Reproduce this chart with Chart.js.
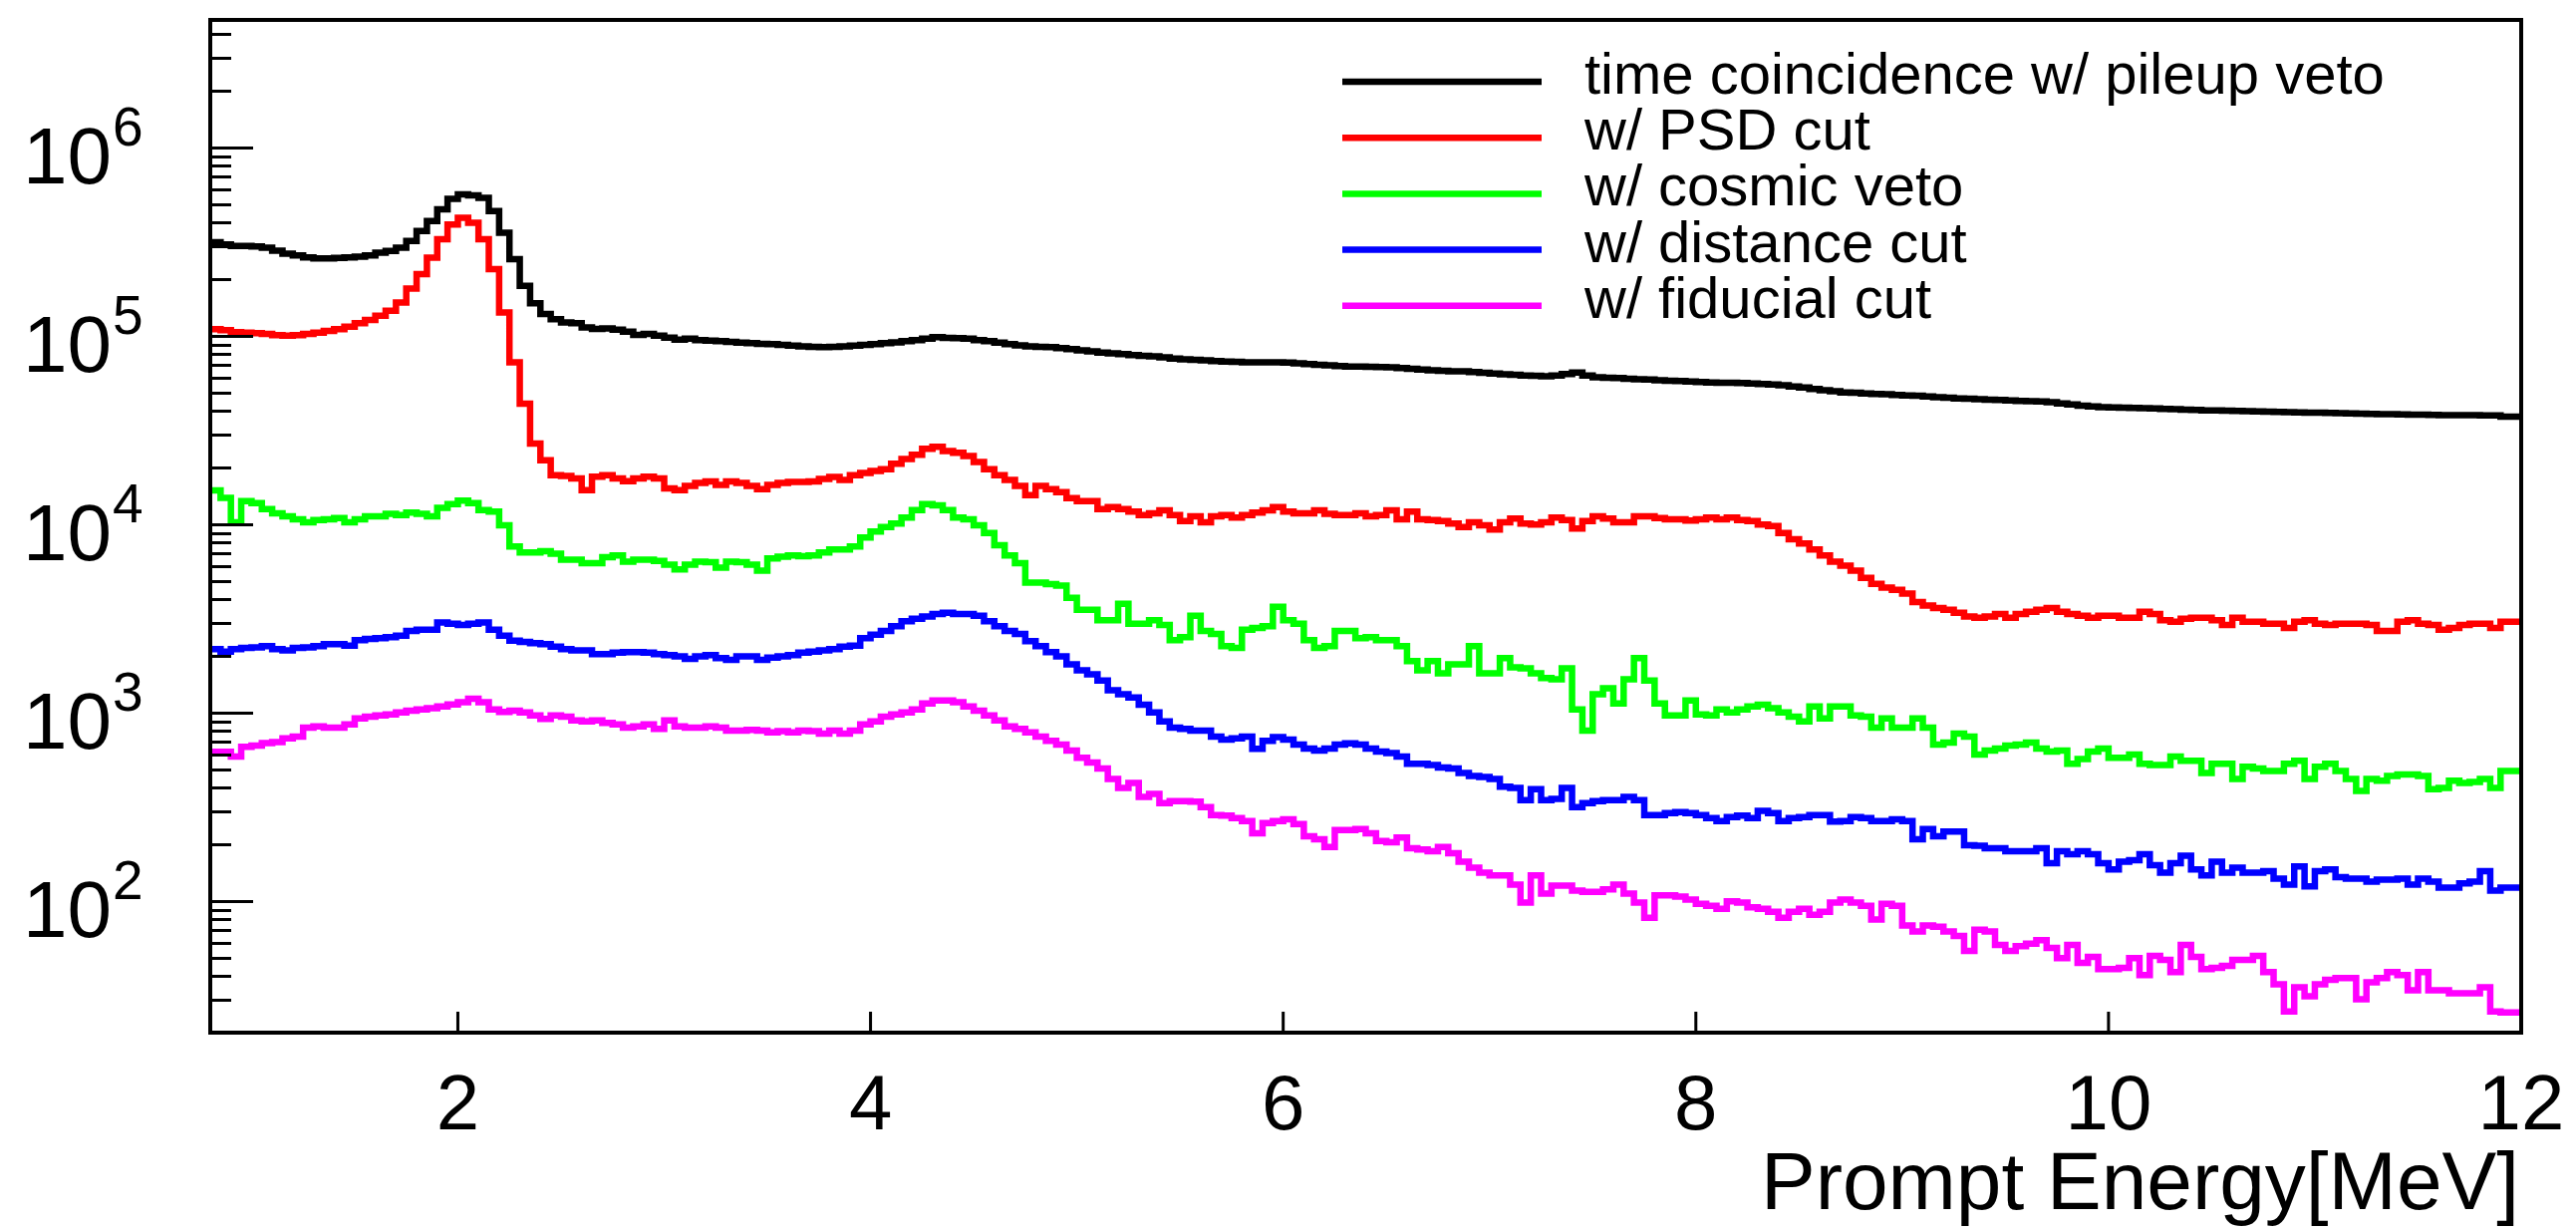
<!DOCTYPE html>
<html>
<head>
<meta charset="utf-8">
<title>Prompt Energy spectrum</title>
<script src="https://cdn.jsdelivr.net/npm/chart.js@4.4.1/dist/chart.umd.min.js"></script>
<style>
  html, body { margin: 0; padding: 0; background: #fff; }
  canvas { display: block; }
</style>
</head>
<body>
<canvas id="spectrum" width="2585" height="1234"></canvas>
<script>
// binning of the histograms (MeV)
const xMin = 0.8;
const xMax = 12;
const binWidth = 0.05;
const xTickValues = [2, 4, 6, 8, 10, 12];
const yMin = 20;
const yMax = 4.76e6;

const seriesLabels = [
  'time coincidence w/ pileup veto',
  'w/ PSD cut',
  'w/ cosmic veto',
  'w/ distance cut',
  'w/ fiducial cut'
];
const seriesColors = ['#000000', '#ff0000', '#00ff00', '#0000ff', '#ff00ff'];

// log10(entries per bin), 224 bins from 0.8 to 12 MeV
const pileupVeto = [
  5.507,5.498,5.485,5.478,5.478,5.475,5.469,5.453,5.437,5.427,
  5.417,5.411,5.411,5.414,5.417,5.421,5.428,5.442,5.451,5.469,
  5.504,5.557,5.610,5.672,5.728,5.751,5.746,5.733,5.663,5.548,
  5.407,5.266,5.174,5.116,5.089,5.072,5.068,5.045,5.037,5.040,
  5.033,5.022,5.005,5.010,5.001,4.991,4.980,4.985,4.978,4.975,
  4.972,4.968,4.965,4.962,4.958,4.956,4.952,4.948,4.945,4.942,
  4.940,4.942,4.945,4.948,4.952,4.956,4.962,4.966,4.972,4.978,
  4.985,4.994,4.990,4.988,4.985,4.978,4.972,4.965,4.956,4.950,
  4.945,4.942,4.940,4.935,4.930,4.924,4.918,4.912,4.908,4.904,
  4.898,4.894,4.892,4.886,4.880,4.876,4.873,4.870,4.866,4.864,
  4.862,4.860,4.860,4.860,4.860,4.858,4.855,4.850,4.846,4.844,
  4.840,4.838,4.838,4.836,4.835,4.834,4.830,4.826,4.822,4.818,
  4.815,4.812,4.812,4.808,4.804,4.800,4.796,4.794,4.790,4.788,
  4.786,4.790,4.798,4.805,4.790,4.780,4.778,4.776,4.773,4.770,
  4.768,4.764,4.762,4.760,4.758,4.755,4.753,4.752,4.751,4.750,
  4.748,4.745,4.742,4.738,4.732,4.726,4.718,4.712,4.706,4.700,
  4.698,4.695,4.692,4.690,4.686,4.684,4.682,4.678,4.675,4.672,
  4.668,4.667,4.664,4.662,4.660,4.657,4.655,4.653,4.652,4.648,
  4.642,4.636,4.630,4.626,4.622,4.620,4.619,4.618,4.617,4.615,
  4.613,4.611,4.609,4.607,4.605,4.604,4.603,4.602,4.600,4.599,
  4.598,4.597,4.595,4.594,4.593,4.592,4.591,4.590,4.589,4.587,
  4.586,4.585,4.584,4.583,4.582,4.582,4.581,4.580,4.580,4.579,
  4.579,4.578,4.578,4.571
];
const psdCut = [
  5.042,5.036,5.030,5.020,5.017,5.014,5.010,5.004,5.001,5.004,
  5.010,5.017,5.026,5.036,5.049,5.068,5.085,
  5.107,5.134,5.178,5.252,5.328,5.416,5.513,5.592,5.627,5.601,5.513,5.354,5.125,
  4.860,4.640,4.428,4.340,4.261,4.257,4.243,4.181,4.252,4.261,
  4.243,4.229,4.243,4.252,4.243,4.190,4.181,
  4.203,4.219,4.228,4.209,4.228,4.219,4.203,4.187,4.209,4.219,4.225,4.225,4.228,
  4.241,4.251,4.235,4.260,4.273,4.283,4.292,4.321,4.347,4.369,
  4.401,4.411,4.389,4.379,4.363,
  4.331,4.292,4.260,4.235,4.203,
  4.155,4.203,4.187,4.171,4.139,4.123,4.123,4.081,4.091,4.081,
  4.068,4.049,4.058,4.074,4.049,4.017,4.042,4.010,4.042,4.049,
  4.036,4.049,4.062,4.074,4.091,4.068,4.058,4.058,4.074,4.055,
  4.049,
  4.049,4.058,4.042,4.049,4.074,4.026,4.068,4.026,4.023,
  4.017,4.004,3.985,4.010,3.994,3.972,4.010,4.030,4.004,3.998,
  4.010,4.036,4.023,3.978,4.017,4.042,4.030,4.010,4.010,4.042,
  4.042,4.033,4.026,4.026,4.020,4.026,4.036,
  4.026,4.036,4.023,
  4.017,3.998,3.991,3.953,3.921,3.898,3.866,3.834,3.802,3.780,
  3.754,3.716,3.684,3.664,3.652,3.632,3.587,3.568,3.555,3.546,
  3.530,3.510,3.504,3.510,3.523,3.504,3.523,3.536,3.546,3.555,
  3.536,3.523,3.514,3.504,
  3.514,3.514,3.504,3.504,3.536,3.523,
  3.491,3.482,3.498,3.504,3.504,3.491,3.466,3.504,3.482,3.482,
  3.472,3.472,3.450,3.482,3.491,3.472,3.466,3.472,3.472,3.472,
  3.466,3.434,3.434,3.482,3.491,3.472,3.466,3.440,3.450,3.466,
  3.472,3.472,3.450,3.482
];
const cosmicVeto = [
  4.168,4.180,4.140,4.010,4.123,4.113,4.081,4.058,4.042,4.026,
  4.010,4.023,4.026,4.033,4.010,4.026,4.042,4.042,4.055,4.049,
  4.062,4.055,4.042,4.087,4.107,4.126,4.113,4.075,4.068,3.994,
  3.882,3.850,3.850,3.857,3.844,3.812,3.812,3.793,
  3.793,3.825,3.834,3.802,3.812,3.812,3.805,3.786,3.761,3.786,
  3.802,3.799,3.770,3.802,3.799,3.786,3.754,3.818,3.828,3.834,
  3.831,3.834,3.850,3.866,3.866,3.882,3.930,3.962,3.985,4.004,
  4.036,4.075,4.107,4.100,4.075,4.036,
  4.026,3.994,3.953,3.889,3.834,3.793,
  3.690,3.690,3.683,3.674,3.610,3.546,3.546,3.491,3.491,3.578,
  3.472,3.472,3.491,3.466,3.385,3.401,3.514,3.434,3.418,3.353,
  3.344,3.440,3.450,3.459,3.562,3.491,3.472,3.385,3.344,3.353,
  3.434,
  3.434,3.395,3.401,3.385,3.385,3.353,3.273,3.225,3.273,
  3.209,3.257,3.257,3.353,3.209,3.209,3.289,3.241,3.235,3.209,
  3.183,3.177,3.235,3.017,2.905,3.097,3.129,3.049,3.177,3.289,
  3.171,3.049,2.985,2.985,3.065,2.991,2.985,3.017,
  3.001,3.017,3.033,3.042,3.023,3.001,2.978,2.953,3.033,
  2.969,3.033,3.033,2.985,2.978,2.921,2.969,2.921,2.921,2.969,
  2.921,2.831,2.841,2.889,2.873,2.777,2.799,2.809,2.825,2.831,
  2.841,2.809,2.793,2.799,2.728,2.754,2.793,
  2.809,2.760,2.760,2.777,2.728,2.722,
  2.722,2.767,2.744,2.744,2.680,2.728,2.728,2.648,2.712,2.703,
  2.690,2.690,2.728,2.744,2.648,2.712,2.728,2.690,2.648,2.584,
  2.648,2.638,2.664,2.671,2.671,2.664,2.594,2.600,2.638,2.626,
  2.632,2.648,2.600,2.690
];
const distanceCut = [
  3.353,3.337,3.324,3.337,3.344,3.347,3.353,3.337,3.331,3.344,
  3.347,3.353,3.363,3.363,3.356,3.385,3.391,3.395,3.401,3.408,
  3.434,3.440,3.440,3.478,3.472,3.466,3.472,3.478,3.440,3.408,
  3.382,3.376,3.369,3.363,3.350,3.337,3.331,3.331,
  3.311,3.311,3.318,3.321,3.321,3.318,3.311,3.305,3.299,3.286,
  3.299,3.305,3.289,3.280,3.299,3.299,3.280,3.292,3.299,3.305,
  3.318,3.324,3.331,3.337,3.350,3.356,3.395,3.414,3.434,3.459,
  3.485,3.498,3.510,3.523,3.530,3.523,
  3.523,3.514,3.485,3.459,3.434,3.418,
  3.379,3.353,3.321,3.299,3.257,3.225,3.203,3.171,3.119,3.097,
  3.081,3.042,3.001,2.953,2.921,2.914,2.905,2.905,2.873,2.857,
  2.863,2.873,2.808,2.850,2.870,2.857,2.831,2.809,2.799,2.809,
  2.831,
  2.837,2.831,2.809,2.793,2.786,2.767,2.728,2.728,2.722,
  2.709,2.703,2.680,2.664,2.658,2.648,2.607,2.600,2.536,2.594,
  2.536,2.542,2.600,2.498,2.520,2.530,2.536,2.536,2.552,2.536,
  2.456,2.456,2.466,2.472,2.466,2.456,2.440,2.424,
  2.446,2.453,2.440,2.478,2.466,2.424,2.440,2.446,2.456,
  2.456,2.421,2.424,2.446,2.440,2.424,2.424,2.434,2.424,2.328,
  2.382,2.344,2.369,2.369,2.296,2.293,2.280,2.280,2.264,2.264,
  2.264,2.280,2.200,2.264,2.248,2.264,2.248,
  2.200,2.168,2.209,2.216,2.248,2.190,
  2.151,2.200,2.241,2.168,2.136,2.209,2.151,2.177,2.151,2.151,
  2.158,2.119,2.087,2.184,2.078,2.158,2.168,2.126,2.119,2.119,
  2.103,2.113,2.113,2.119,2.087,2.119,2.103,2.071,2.071,2.094,
  2.103,2.158,2.055,2.071
];
const fiducialCut = [
  2.786,2.792,2.792,2.767,2.818,2.825,2.838,2.844,2.863,2.873,
  2.921,2.927,2.921,2.921,2.937,2.969,2.978,2.985,2.991,3.001,
  3.010,3.017,3.023,3.033,3.043,3.055,3.074,3.055,3.017,3.004,
  3.010,3.001,2.985,2.966,2.985,2.978,2.959,2.953,
  2.959,2.946,2.937,2.921,2.927,2.937,2.914,2.959,2.927,2.921,
  2.921,2.927,2.921,2.905,2.905,2.908,2.905,2.895,2.902,2.895,
  2.905,2.902,2.889,2.905,2.889,2.905,2.937,2.953,2.978,2.991,
  3.001,3.017,3.049,3.065,3.065,3.055,
  3.033,3.010,2.985,2.959,2.927,2.914,
  2.895,2.873,2.850,2.831,2.799,2.760,2.735,2.703,2.648,2.600,
  2.626,2.552,2.568,2.520,2.530,2.530,2.527,2.498,2.456,2.453,
  2.440,2.424,2.360,2.414,2.424,2.434,2.408,2.344,2.328,2.286,
  2.376,
  2.376,2.382,2.360,2.318,2.312,2.337,2.280,2.273,2.264,
  2.286,2.254,2.209,2.177,2.151,2.136,2.136,2.087,1.991,2.136,
  2.039,2.081,2.081,2.055,2.049,2.049,2.062,2.087,2.039,1.991,
  1.911,2.030,2.030,2.023,2.007,1.985,1.975,1.959,
  1.998,1.991,1.966,1.959,1.943,1.911,1.943,1.959,1.927,
  1.943,1.991,2.007,1.991,1.975,1.902,1.985,1.975,1.870,1.838,
  1.870,1.863,1.838,1.815,1.735,1.847,1.838,1.767,1.735,1.760,
  1.773,1.792,1.751,1.697,1.767,1.671,1.703,
  1.638,1.638,1.645,1.696,1.607,1.709,
  1.687,1.623,1.767,1.703,1.638,1.645,1.655,1.687,1.687,1.709,
  1.623,1.558,1.414,1.542,1.494,1.558,1.581,1.591,1.591,1.478,
  1.568,1.591,1.623,1.607,1.526,1.623,1.526,1.526,1.510,1.510,
  1.510,1.542,1.414,1.408
];

const allSeries = [pileupVeto, psdCut, cosmicVeto, distanceCut, fiducialCut];

// low edges of every bin plus the upper edge of the last one
const binEdges = [];
for (let i = 0; i <= pileupVeto.length; i++) {
  binEdges.push(+(xMin + i * binWidth).toFixed(2));
}

// histogram outline: each bin value held from its low edge to the next edge
function toSteps(logCounts) {
  return binEdges.map((x, i) => ({
    x: x,
    y: Math.pow(10, logCounts[Math.min(i, logCounts.length - 1)])
  }));
}

const datasets = allSeries.map((s, k) => ({
  label: seriesLabels[k],
  data: toSteps(s),
  borderColor: seriesColors[k],
  backgroundColor: seriesColors[k],
  borderWidth: 6.5,
  stepped: 'after',
  pointRadius: 0,
  fill: false,
  order: allSeries.length - k
}));

const FONT = '"Liberation Sans", Arial, Helvetica, sans-serif';

// frame, inward ticks, labels and legend in the ROOT look
const rootFrame = {
  id: 'rootFrame',
  afterDraw(chart) {
    const { ctx, chartArea: a } = chart;
    const xs = chart.scales.x;
    const ys = chart.scales.y;
    ctx.save();

    ctx.strokeStyle = '#000';
    ctx.lineWidth = 4;
    ctx.strokeRect(a.left, a.top, a.right - a.left, a.bottom - a.top);

    ctx.lineWidth = 3;
    ctx.beginPath();
    for (let d = 1; d <= 6; d++) {
      for (let m = 1; m <= 9; m++) {
        const v = m * Math.pow(10, d);
        if (v < ys.min || v > ys.max) continue;
        const py = Math.round(ys.getPixelForValue(v)) + 0.5;
        ctx.moveTo(a.left, py);
        ctx.lineTo(a.left + (m === 1 ? 43 : 21), py);
      }
    }
    xTickValues.forEach(v => {
      const px = xs.getPixelForValue(v);
      ctx.moveTo(px, a.bottom);
      ctx.lineTo(px, a.bottom - 21);
    });
    ctx.stroke();

    ctx.fillStyle = '#000';
    ctx.textBaseline = 'alphabetic';

    // x tick labels
    ctx.font = '78px ' + FONT;
    ctx.textAlign = 'center';
    xTickValues.forEach(v => {
      ctx.fillText(String(v), xs.getPixelForValue(v), a.bottom + 97);
    });

    // y tick labels 10^n
    for (let d = 2; d <= 6; d++) {
      const py = ys.getPixelForValue(Math.pow(10, d));
      ctx.font = '80px ' + FONT;
      ctx.textAlign = 'right';
      ctx.fillText('10', 112, py + 36);
      ctx.font = '55px ' + FONT;
      ctx.textAlign = 'left';
      ctx.fillText(String(d), 113, py - 2);
    }

    // axis title
    ctx.font = '82px ' + FONT;
    ctx.textAlign = 'right';
    ctx.fillText('Prompt Energy[MeV]', a.right - 2, a.bottom + 177);

    // legend
    chart.data.datasets.forEach((ds, k) => {
      const ly = 82 + k * 56.2;
      ctx.strokeStyle = ds.borderColor;
      ctx.lineWidth = 6.5;
      ctx.beginPath();
      ctx.moveTo(1347, ly);
      ctx.lineTo(1547, ly);
      ctx.stroke();
      ctx.fillStyle = '#000';
      ctx.font = '58px ' + FONT;
      ctx.textAlign = 'left';
      ctx.fillText(ds.label, 1590, ly + 12);
    });

    ctx.restore();
  }
};

new Chart(document.getElementById('spectrum'), {
  type: 'line',
  data: { datasets: datasets },
  options: {
    responsive: false,
    animation: false,
    devicePixelRatio: 1,
    layout: { padding: { top: 20, right: 55, bottom: 0, left: 0 } },
    plugins: {
      legend: { display: false },
      tooltip: { enabled: false }
    },
    scales: {
      x: {
        type: 'linear',
        min: xMin,
        max: xMax,
        grid: { display: false, drawTicks: false, tickLength: 0 },
        border: { display: false },
        ticks: { display: false },
        afterFit(s) { s.height = 198; }
      },
      y: {
        type: 'logarithmic',
        min: yMin,
        max: yMax,
        grid: { display: false, drawTicks: false, tickLength: 0 },
        border: { display: false },
        ticks: { display: false },
        afterFit(s) { s.width = 211; }
      }
    }
  },
  plugins: [rootFrame]
});
</script>
</body>
</html>
